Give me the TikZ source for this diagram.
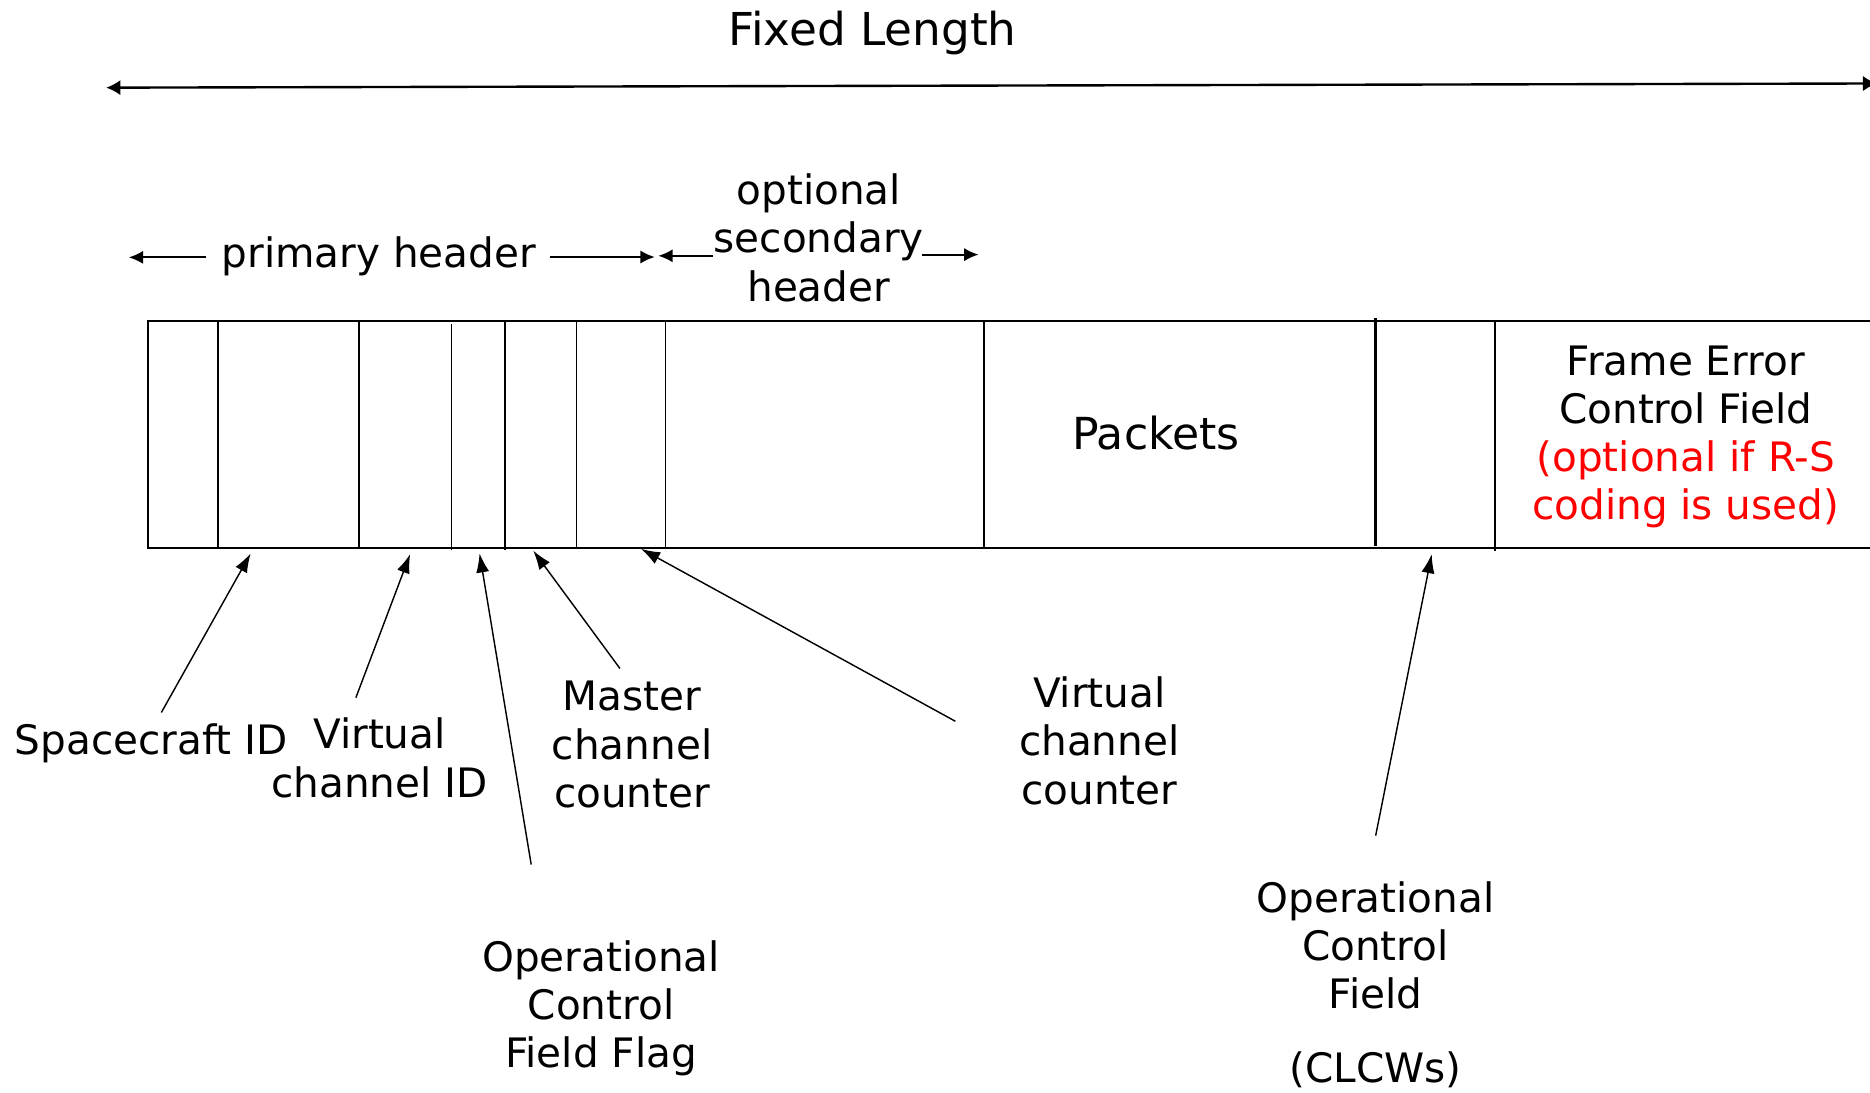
\documentclass[tikz,border=0pt]{standalone}
\usepackage{fontspec}
\setmainfont{DejaVu Sans}
\usetikzlibrary{arrows.meta}
\begin{document}
\begin{tikzpicture}[x=0.5pt,y=-0.5pt,
  lbl/.style={font=\fontsize{17}{20.25}\selectfont, align=center, anchor=base, inner sep=0pt},
  frameline/.style={line width=0.85pt},
  divider/.style={line width=0.8pt},
  conn/.style={line width=0.6pt, -{Latex[length=8pt,width=5.5pt]}},
  spanarrow/.style={line width=0.75pt, -{Latex[length=6pt,width=5.5pt]}},
  lengtharrow/.style={line width=1pt, {Latex[length=6pt,width=6.5pt]}-{Latex[length=6pt,width=6.5pt]}},
]
\useasboundingbox (0,0) rectangle (1568,916);

% overall length of the transfer frame
\node[lbl, font=\fontsize{19}{23}\selectfont] (fixed) at (731.5,38.3) {Fixed Length};
\coordinate (lenL) at (89,73.5);
\coordinate (lenR) at (1574,70);
\draw[lengtharrow] (lenL) -- (lenR);

% header extents (multi-line labels are placed by the baseline of their last line)
\node[lbl] (prim) at (317.7,224) {primary header};
\coordinate (primLs) at (173,215.8);
\coordinate (primL) at (108,215.8);
\coordinate (primRs) at (460.8,215.5);
\coordinate (primR) at (549,215.5);
\draw[spanarrow] (primLs) -- (primL);
\draw[spanarrow] (primRs) -- (primR);

\node[lbl] (sec) at (686.5,252.5) {optional\\secondary\\header};
\coordinate (secLs) at (598,214.5);
\coordinate (secL) at (552,214.5);
\coordinate (secRs) at (773,213.5);
\coordinate (secR) at (820.5,213.5);
\draw[spanarrow] (secLs) -- (secL);
\draw[spanarrow] (secRs) -- (secR);

% frame outline (runs past the right edge)
\draw[frameline] (1580,269.2) -- (123.8,269.2) -- (123.8,459.8) -- (1580,459.8);

% field boundaries
\draw[divider] (182.5,269.2) -- (182.5,459.8);
\draw[divider] (301,269.2) -- (301,459.8);
\draw[line width=0.65pt] (378.4,271.7) -- (378.4,461.5);
\draw[divider] (423.2,269.2) -- (423.2,461.5);
\draw[divider] (483.4,269.2) -- (483.4,459.8);
\draw[divider] (558,269.2) -- (558,459.8);
\draw[divider] (825,269.2) -- (825,459.8);
\draw[line width=1.1pt] (1153.4,266.9) -- (1153.4,457.6);
\draw[divider] (1253.2,269.7) -- (1253.2,461.7);

% field contents
\node[lbl, font=\fontsize{18.5}{22}\selectfont] (packets) at (969.3,376.8) {Packets};
\node[lbl] (fecf) at (1413.5,436) {Frame Error\\Control Field\\\textcolor{red}{(optional if R-S}\\\textcolor{red}{coding is used)}};

% field labels below the frame
\node[lbl] (scid) at (126.8,632.8) {Spacecraft ID};
\node[lbl] (vcid) at (318.2,668.3) {Virtual\\channel ID};
\node[lbl] (ocff) at (504,895.5) {Operational\\Control\\Field Flag};
\node[lbl] (mcc) at (530,677) {Master\\channel\\counter};
\node[lbl] (vcc) at (921.8,674.2) {Virtual\\channel\\counter};
\node[lbl] (ocf) at (1153.3,907.5) {Operational\\Control\\Field\\[10.5pt](CLCWs)};

% pointers from labels to fields
\coordinate (scTail) at (135.3,597.4);   \coordinate (scTip) at (210.2,464);
\coordinate (vcidTail) at (298.4,585);   \coordinate (vcidTip) at (343.9,464.6);
\coordinate (ocffTail) at (445.4,724.9); \coordinate (ocffTip) at (402.1,464);
\coordinate (mccTail) at (519.8,560.5);  \coordinate (mccTip) at (447.1,461.7);
\coordinate (vccTail) at (801.1,604.8);  \coordinate (vccTip) at (537.5,460.2);
\coordinate (ocfTail) at (1153.5,700.7); \coordinate (ocfTip) at (1200.5,464.6);
\draw[conn] (scTail) -- (scTip);
\draw[conn] (vcidTail) -- (vcidTip);
\draw[conn] (ocffTail) -- (ocffTip);
\draw[conn] (mccTail) -- (mccTip);
\draw[conn] (vccTail) -- (vccTip);
\draw[conn] (ocfTail) -- (ocfTip);
\end{tikzpicture}
\end{document}
